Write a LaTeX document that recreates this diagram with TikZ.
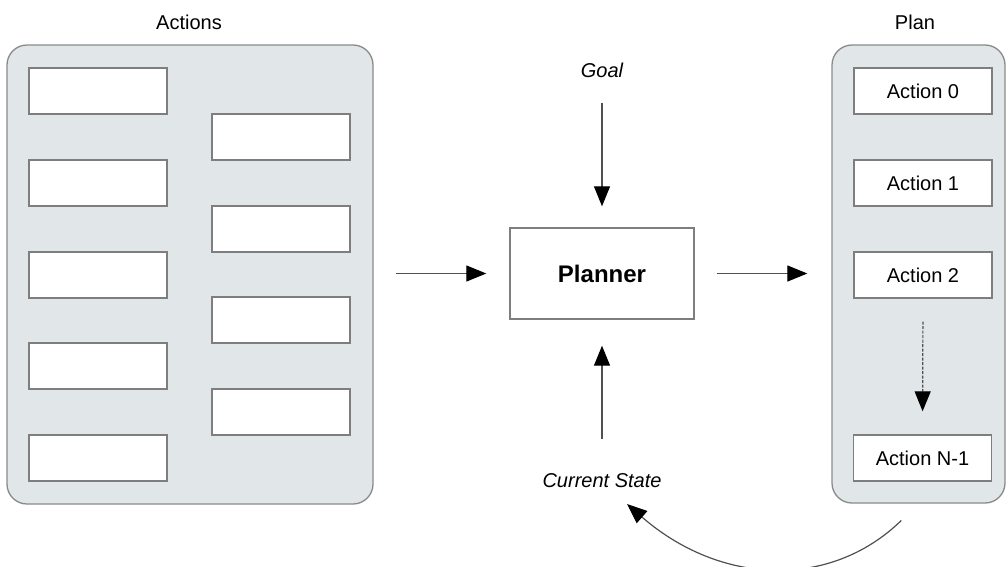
\documentclass[tikz,border=0pt]{standalone}
\usepackage{fontspec}
\setmainfont{Liberation Sans}
\usetikzlibrary{arrows.meta}
\definecolor{panelfill}{HTML}{E1E6E9}
\definecolor{panelline}{HTML}{8A8A8A}
\definecolor{boxline}{HTML}{7E7E7E}
\definecolor{arrline}{HTML}{505050}
\tikzset{
  panel/.style={draw=panelline, fill=panelfill, line width=1.3pt, rounded corners=20pt},
  slot/.style={draw=boxline, fill=white, line width=1.4pt, minimum width=138pt, minimum height=46pt, inner sep=0pt, font=\fontsize{20}{24}\selectfont},
  lbl/.style={inner sep=0pt, font=\fontsize{20}{24}\selectfont},
  arr/.style={draw=arrline, line width=1.2pt, -{Triangle[length=20pt,width=16pt,color=black]}},
}
\begin{document}
\begin{tikzpicture}[x=1pt,y=-1pt]
\useasboundingbox (0,0) rectangle (1007,566);
\clip (0,0) rectangle (1007,566);
% panels
\node[panel, minimum width=366pt, minimum height=459pt, inner sep=0pt] (actpanel) at (190,274.5) {};
\node[panel, minimum width=173pt, minimum height=458pt, inner sep=0pt] (planpanel) at (918.5,274) {};
% labels
\node[lbl] (actlbl) at (189,22) {Actions};
\node[lbl] (planlbl) at (915,22) {Plan};
\node[lbl, font=\fontsize{20}{24}\selectfont\itshape] (goal) at (602,70) {Goal};
\node[lbl, font=\fontsize{20}{24}\selectfont\itshape] (cur) at (602,481) {Current State};
% action slots, left column
\node[slot] (a1) at (98,91) {};
\node[slot] (a2) at (98,183) {};
\node[slot] (a3) at (98,275) {};
\node[slot] (a4) at (98,366) {};
\node[slot] (a5) at (98,458) {};
% right column
\node[slot] (b1) at (281,137) {};
\node[slot] (b2) at (281,229) {};
\node[slot] (b3) at (281,320) {};
\node[slot] (b4) at (281,412) {};
% planner
\node[draw=boxline, fill=white, line width=1.4pt, minimum width=184pt, minimum height=91pt, inner sep=0pt, font=\fontsize{24}{28}\selectfont\bfseries] (planner) at (602,273.5) {Planner};
% plan slots
\node[slot] (p0) at (923,91) {Action 0};
\node[slot] (p1) at (923,183) {Action 1};
\node[slot] (p2) at (923,275) {Action 2};
\node[slot] (pn) at (922.5,458) {Action N-1};
% connectors
\draw[arr, shorten <=22pt, shorten >=23pt] (actpanel.east |- planner.west) -- (planner.west);
\draw[arr, shorten <=22pt, shorten >=24pt] (planner.east) -- (planpanel.west |- planner.east);
\draw[arr, shorten <=25pt, shorten >=21pt] (goal.south) -- (planner.north);
\draw[arr, shorten <=35pt, shorten >=26pt] (cur.north) -- (planner.south);
\draw[arr, dashed, dash pattern=on 3pt off 1.5pt, shorten <=23pt, shorten >=23pt] (p2.south) -- (pn.north);
\coordinate (cs) at (627,504);
\draw[arr, shorten <=24pt] (planpanel.south) .. controls (830,590) and (720,585) .. (cs);
\end{tikzpicture}
\end{document}
